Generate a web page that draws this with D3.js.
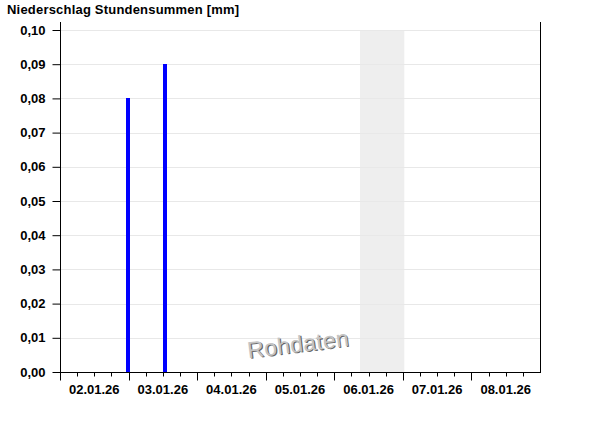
<!DOCTYPE html>
<html><head><meta charset="utf-8">
<script src="https://cdn.jsdelivr.net/npm/d3@7"></script>
<style>
body{margin:0;background:#fff;}
text{font-family:"Liberation Sans",Arial,sans-serif;}
</style></head>
<body><svg id="c" width="600" height="426"></svg>
<script>
const title = "Niederschlag Stundensummen [mm]";
const barTimes = ["2026-01-02T23:48", "2026-01-03T12:40"];
const barValues = [0.08, 0.09];
const yTicks = [0, 0.01, 0.02, 0.03, 0.04, 0.05, 0.06, 0.07, 0.08, 0.09, 0.10];
const dayLabels = ["02.01.26","03.01.26","04.01.26","05.01.26","06.01.26","07.01.26","08.01.26"];
const domainStart = "2026-01-02T00:00", domainEnd = "2026-01-09T00:00";
const bandRange = ["2026-01-06T09:00", "2026-01-07T00:30"];
const watermark = "Rohdaten";

const parse = d3.timeParse("%Y-%m-%dT%H:%M");
const svg = d3.select("#c");
const L = 60, R = 540, T = 30, B = 372;
const x = d3.scaleTime().domain([parse(domainStart), parse(domainEnd)]).range([L, R]);
const y = d3.scaleLinear().domain([0, 0.10]).range([B, T]);
const fmt = v => d3.format(".2f")(v).replace(".", ",");

// band
svg.append("rect").attr("x", x(parse(bandRange[0]))).attr("y", y(0.10))
  .attr("width", x(parse(bandRange[1])) - x(parse(bandRange[0]))).attr("height", y(0) - y(0.10))
  .attr("fill", "#eeeeee");

// gridlines
svg.append("g").selectAll("line").data(yTicks.slice(1)).join("line")
  .attr("x1", L).attr("x2", R).attr("y1", d => Math.round(y(d)) + 0.5).attr("y2", d => Math.round(y(d)) + 0.5)
  .attr("stroke", "#e8e8e8").attr("stroke-width", 1);

// watermark
const wm = svg.append("g").attr("transform", "translate(299,352) rotate(-7)");
wm.append("text").attr("x", 1).attr("y", 1).attr("text-anchor", "middle").attr("font-size", 23)
  .attr("letter-spacing", 0.3).attr("fill", "#666").text(watermark);
wm.append("text").attr("text-anchor", "middle").attr("font-size", 23)
  .attr("letter-spacing", 0.3).attr("fill", "#c4c4c4").text(watermark);

// bars
svg.append("g").selectAll("rect").data(barTimes.map((t, i) => ({t: parse(t), v: barValues[i]}))).join("rect")
  .attr("x", d => Math.round(x(d.t)) - 2).attr("width", 4)
  .attr("y", d => Math.round(y(d.v))).attr("height", d => y(0) - Math.round(y(d.v)))
  .attr("fill", "#0000ff");

// y axis
const ya = svg.append("g").attr("transform", `translate(${L + 0.5},0)`)
  .call(d3.axisLeft(y).tickValues(yTicks).tickFormat(fmt).tickSize(8).tickPadding(7));
ya.select(".domain").attr("d", `M0,22V${B}`).attr("stroke", "#000");
ya.selectAll(".tick line").attr("stroke", "#000");
ya.selectAll("text").attr("font-size", 13).attr("font-weight", "bold").attr("fill", "#000")
  .attr("font-family", "Liberation Sans, Arial, sans-serif");

// right border
svg.append("line").attr("x1", R + 0.5).attr("x2", R + 0.5).attr("y1", 22).attr("y2", B).attr("stroke", "#000");

// x axis
const xa = svg.append("g").attr("transform", `translate(0,${B + 0.5})`);
xa.append("line").attr("x1", L).attr("x2", R + 1).attr("stroke", "#000");
const minor = d3.timeHour.every(6).range(parse(domainStart), parse(domainEnd));
xa.selectAll(".mt").data(minor).join("line")
  .attr("x1", d => Math.round(x(d)) + 0.5).attr("x2", d => Math.round(x(d)) + 0.5)
  .attr("y1", 0).attr("y2", d => d.getHours() === 0 ? 8 : 4).attr("stroke", "#000");
const days = d3.timeDay.range(parse(domainStart), parse(domainEnd));
xa.selectAll(".lbl").data(days).join("text")
  .attr("x", (d, i) => x(d3.timeHour.offset(d, 12)))
  .attr("y", 21).attr("text-anchor", "middle").attr("font-size", 13).attr("font-weight", "bold")
  .text((d, i) => dayLabels[i]);

// title
svg.append("text").attr("x", 7).attr("y", 14).attr("font-size", 13).attr("font-weight", "bold")
  .attr("letter-spacing", 0.2).text(title);
</script></body></html>
